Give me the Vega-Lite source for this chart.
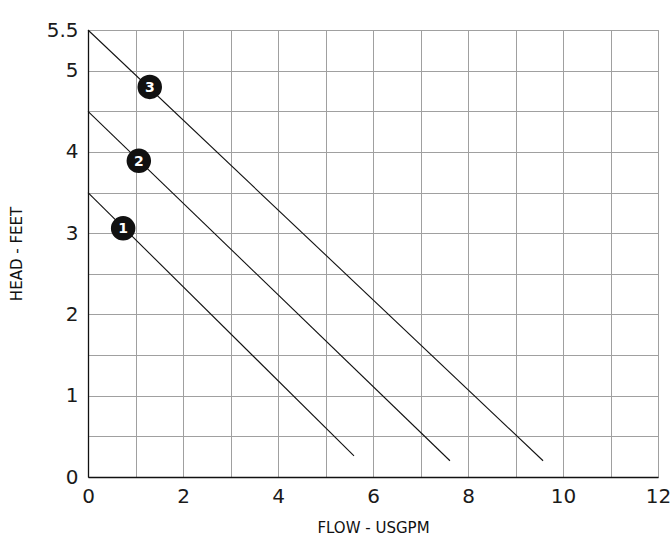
{
  "$schema": "https://vega.github.io/schema/vega-lite/v6.json",
  "autosize": "none",
  "padding": {"left": 88, "top": 30, "right": 14, "bottom": 75},
  "width": 570,
  "height": 447,
  "config": {
    "view": {"stroke": "#999999", "strokeWidth": 1},
    "font": "DejaVu Sans"
  },
  "datasets": {
    "curves": [
      {"curve": "1", "flow": 0, "head": 3.5},
      {"curve": "1", "flow": 5.6, "head": 0.26},
      {"curve": "2", "flow": 0, "head": 4.5},
      {"curve": "2", "flow": 7.62, "head": 0.2},
      {"curve": "3", "flow": 0, "head": 5.5},
      {"curve": "3", "flow": 9.58, "head": 0.2}
    ],
    "markers": [
      {"label": "1", "flow": 0.74, "head": 3.06},
      {"label": "2", "flow": 1.07, "head": 3.89},
      {"label": "3", "flow": 1.3, "head": 4.8}
    ]
  },
  "layer": [
    {
      "data": {"name": "curves"},
      "mark": {"type": "line", "color": "#111111", "strokeWidth": 1.1},
      "encoding": {
        "x": {
          "field": "flow", "type": "quantitative",
          "scale": {"domain": [0, 12], "nice": false, "zero": true},
          "axis": {
            "values": [0,1,2,3,4,5,6,7,8,9,10,11,12],
            "format": "~g",
            "labelExpr": "datum.value % 2 == 0 ? datum.label : ''",
            "title": "FLOW - USGPM",
            "titleFont": "DejaVu Sans", "titleFontSize": 15, "titleFontWeight": "normal",
            "titleColor": "#111111", "titlePadding": 14,
            "labelFont": "DejaVu Sans", "labelFontSize": 20, "labelColor": "#1a1a1a",
            "labelPadding": 9, "labelFlush": false,
            "ticks": false, "domainColor": "#111111", "domainWidth": 1.3,
            "gridColor": "#a0a0a0", "gridWidth": 1, "gridOpacity": 1
          }
        },
        "y": {
          "field": "head", "type": "quantitative",
          "scale": {"domain": [0, 5.5], "nice": false},
          "axis": {
            "values": [0,0.5,1,1.5,2,2.5,3,3.5,4,4.5,5,5.5],
            "format": "~g",
            "labelExpr": "(datum.value % 1 == 0 || datum.value == 5.5) ? datum.label : ''",
            "title": "HEAD - FEET",
            "titleFont": "DejaVu Sans", "titleFontSize": 15, "titleFontWeight": "normal",
            "titleColor": "#111111", "titlePadding": 22,
            "labelFont": "DejaVu Sans", "labelFontSize": 20, "labelColor": "#1a1a1a",
            "labelPadding": 10, "labelFlush": false,
            "ticks": false, "domainColor": "#111111", "domainWidth": 1.3,
            "gridColor": "#a0a0a0", "gridWidth": 1, "gridOpacity": 1
          }
        },
        "detail": {"field": "curve"}
      }
    },
    {
      "data": {"name": "markers"},
      "mark": {"type": "circle", "size": 600, "color": "#111111", "opacity": 1},
      "encoding": {
        "x": {"field": "flow", "type": "quantitative"},
        "y": {"field": "head", "type": "quantitative"}
      }
    },
    {
      "data": {"name": "markers"},
      "mark": {"type": "text", "color": "white", "fontSize": 14, "fontWeight": "bold", "font": "DejaVu Sans", "baseline": "middle", "align": "center", "dy": 1},
      "encoding": {
        "x": {"field": "flow", "type": "quantitative"},
        "y": {"field": "head", "type": "quantitative"},
        "text": {"field": "label"}
      }
    }
  ]
}
